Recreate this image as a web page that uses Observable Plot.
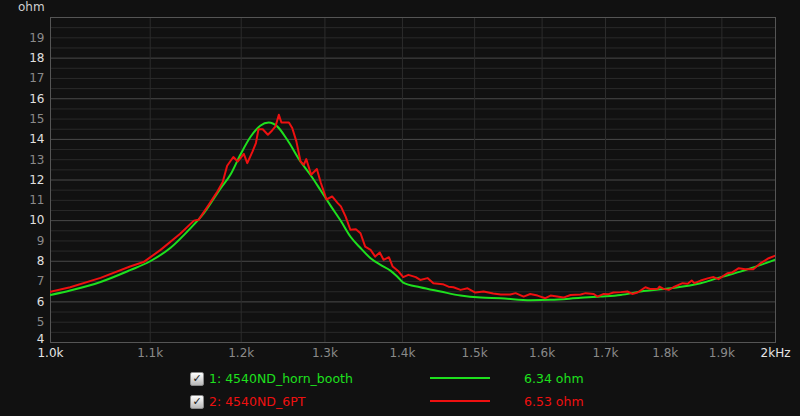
<!DOCTYPE html>
<html>
<head>
<meta charset="utf-8">
<script src="https://cdn.jsdelivr.net/npm/d3@7"></script>
<script src="https://cdn.jsdelivr.net/npm/@observablehq/plot@0.6"></script>
<style>
  html, body { margin: 0; padding: 0; background: #111111; }
  #wrap { position: relative; width: 800px; height: 416px; overflow: hidden; font-family: "DejaVu Sans", sans-serif; }
  #chart { position: absolute; left: 0; top: 0; }
  .unit { position: absolute; left: 18px; top: 0px; font-size: 12px; color: #cfcfcf; line-height: 14px; }
  .row { position: absolute; left: 0; width: 800px; height: 18px; }
  .cb { position: absolute; left: 190px; top: 2px; width: 12px; height: 12px; border: 1px solid #8a8a8a; border-radius: 2px;
        background: linear-gradient(#ffffff, #b8b8b8); color: #202020; font-size: 11px; line-height: 12px; text-align: center; font-weight: bold; }
  .name { position: absolute; left: 209px; top: 0; font-size: 12.5px; line-height: 17px; }
  .swatch { position: absolute; left: 430px; top: 7px; width: 60px; height: 2px; }
  .val { position: absolute; left: 524px; top: 0; font-size: 12.5px; line-height: 17px; }
</style>
</head>
<body>
<div id="wrap">
  <div id="chart"></div>
  <div class="unit">ohm</div>
  <div id="legend"></div>
</div>
<script>
// ---- data (frequency in Hz, impedance in ohm) ----
const hornFreq = [1000, 1019, 1049, 1079, 1100, 1122, 1143, 1158, 1176, 1188, 1199, 1211, 1222, 1232, 1242, 1254, 1270, 1282, 1295, 1307, 1320, 1332, 1345, 1358, 1371, 1384, 1393, 1401, 1424, 1452, 1480, 1509, 1538, 1582, 1613, 1660, 1692, 1725, 1758, 1809, 1862, 1898, 1934, 1972, 2000];
const hornOhm  = [6.34, 6.56, 6.98, 7.56, 8.0, 8.68, 9.62, 10.37, 11.55, 12.28, 13.24, 14.14, 14.67, 14.83, 14.64, 13.98, 12.91, 12.26, 11.47, 10.74, 9.98, 9.22, 8.65, 8.15, 7.82, 7.54, 7.25, 6.95, 6.72, 6.51, 6.31, 6.21, 6.18, 6.08, 6.1, 6.2, 6.26, 6.34, 6.51, 6.67, 6.92, 7.22, 7.49, 7.82, 8.08];

const ptFreq = [1000, 1019, 1049, 1079, 1093, 1111, 1132, 1147, 1152, 1162, 1173, 1179, 1184, 1191, 1196, 1203, 1207, 1213, 1217, 1220, 1225, 1231, 1236, 1240, 1244, 1247, 1256, 1260, 1265, 1270, 1274, 1277, 1283, 1290, 1295, 1302, 1309, 1316, 1320, 1326, 1332, 1339, 1345, 1351, 1358, 1364, 1370, 1375, 1382, 1387, 1395, 1401, 1408, 1418, 1424, 1434, 1442, 1455, 1463, 1470, 1480, 1490, 1501, 1513, 1527, 1538, 1552, 1560, 1572, 1582, 1593, 1605, 1613, 1633, 1644, 1660, 1668, 1681, 1687, 1697, 1705, 1713, 1725, 1736, 1744, 1753, 1766, 1775, 1787, 1790, 1797, 1806, 1814, 1830, 1839, 1846, 1851, 1862, 1876, 1885, 1894, 1910, 1919, 1931, 1943, 1958, 1972, 1987, 2000];
const ptOhm  = [6.5, 6.72, 7.18, 7.74, 7.96, 8.56, 9.35, 10.0, 10.04, 10.69, 11.43, 11.9, 12.7, 13.13, 12.91, 13.29, 12.83, 13.4, 13.82, 14.5, 14.5, 14.23, 14.44, 14.64, 15.21, 14.83, 14.83, 14.56, 13.9, 12.91, 12.75, 13.03, 12.26, 12.54, 11.85, 11.04, 11.19, 10.86, 10.7, 10.2, 9.55, 9.58, 9.38, 8.72, 8.56, 8.23, 8.43, 8.07, 8.2, 7.74, 7.49, 7.22, 7.33, 7.22, 7.08, 7.17, 6.92, 6.87, 6.75, 6.72, 6.59, 6.67, 6.46, 6.51, 6.41, 6.36, 6.36, 6.43, 6.26, 6.39, 6.31, 6.18, 6.31, 6.21, 6.34, 6.36, 6.43, 6.39, 6.26, 6.39, 6.38, 6.46, 6.48, 6.51, 6.39, 6.46, 6.72, 6.63, 6.64, 6.75, 6.64, 6.59, 6.72, 6.92, 6.89, 7.05, 6.92, 7.05, 7.17, 7.22, 7.12, 7.41, 7.45, 7.66, 7.61, 7.61, 7.91, 8.15, 8.28];

const xTicks = [1000, 1100, 1200, 1300, 1400, 1500, 1600, 1700, 1800, 1900, 2000];
const xTickLabels = ["1.0k", "1.1k", "1.2k", "1.3k", "1.4k", "1.5k", "1.6k", "1.7k", "1.8k", "1.9k", "2kHz"];
const yMajorTicks = [4, 6, 8, 10, 12, 14, 16, 18];
const yMinorTicks = [5, 7, 9, 11, 13, 15, 17, 19];
const yHalfTicks = [4.5, 5.5, 6.5, 7.5, 8.5, 9.5, 10.5, 11.5, 12.5, 13.5, 14.5, 15.5, 16.5, 17.5, 18.5, 19.5];

const seriesNames = ["1: 4540ND_horn_booth", "2: 4540ND_6PT"];
const seriesValues = ["6.34 ohm", "6.53 ohm"];
const seriesColors = ["#1ee01e", "#ee1010"];

// ---- build ----
const horn = hornFreq.map((f, i) => ({f, v: hornOhm[i]}));
const pt = ptFreq.map((f, i) => ({f, v: ptOhm[i]}));
const labelOf = new Map(xTicks.map((t, i) => [t, xTickLabels[i]]));

const chart = Plot.plot({
  width: 800,
  height: 362,
  marginLeft: 50,
  marginRight: 25,
  marginTop: 17,
  marginBottom: 20,
  style: {background: "transparent", fontFamily: "DejaVu Sans, sans-serif", fontSize: "12px", overflow: "visible"},
  x: {type: "log", domain: [1000, 2000]},
  y: {domain: [4, 20]},
  marks: [
    Plot.gridY(yHalfTicks, {stroke: "#2a2a2a", strokeOpacity: 1}),
    Plot.gridY(yMinorTicks, {stroke: "#2a2a2a", strokeOpacity: 1}),
    Plot.gridY(yMajorTicks.filter(d => d > 4), {stroke: "#4a4a4a", strokeOpacity: 1}),
    Plot.gridX(xTicks.slice(1, -1), {stroke: "#2c2c2c", strokeOpacity: 1}),
    Plot.frame({stroke: "#555555"}),
    Plot.axisY(yMajorTicks.filter(d => d > 4), {tickSize: 0, tickPadding: 6, fill: "#e0e0e0", label: null}),
    Plot.axisY([4], {tickSize: 0, tickPadding: 6, fill: "#e0e0e0", label: null, dy: -3}),
    Plot.axisY(yMinorTicks, {tickSize: 0, tickPadding: 6, fill: "#8a8a8a", label: null}),
    Plot.axisX([1000, 2000], {tickSize: 0, tickPadding: 6, fill: "#e6e6e6", label: null, tickFormat: d => labelOf.get(d)}),
    Plot.axisX(xTicks.slice(1, -1), {tickSize: 0, tickPadding: 6, fill: "#8a8a8a", label: null, tickFormat: d => labelOf.get(d)}),
    Plot.line(horn, {x: "f", y: "v", stroke: seriesColors[0], strokeWidth: 2, curve: "monotone-x", clip: true}),
    Plot.line(pt, {x: "f", y: "v", stroke: seriesColors[1], strokeWidth: 2, curve: "linear", clip: true})
  ]
});
document.getElementById("chart").appendChild(chart);

const legend = document.getElementById("legend");
const rowTops = [370, 393];
seriesNames.forEach((name, i) => {
  const row = document.createElement("div");
  row.className = "row";
  row.style.top = rowTops[i] + "px";
  row.innerHTML = `<div class="cb">✓</div>
    <div class="name" style="color:${seriesColors[i]}">${name}</div>
    <div class="swatch" style="background:${seriesColors[i]}"></div>
    <div class="val" style="color:${seriesColors[i]}">${seriesValues[i]}</div>`;
  legend.appendChild(row);
});
</script>
</body>
</html>
